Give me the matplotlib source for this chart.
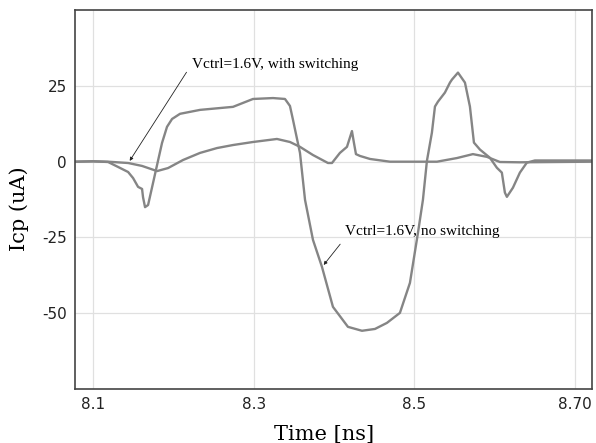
import numpy as np
import matplotlib
matplotlib.use("Agg")
import matplotlib.pyplot as plt

# time [ns] / current [uA]
t_big = [8.0772, 8.0996, 8.1183, 8.1309, 8.1433, 8.1495, 8.1557, 8.1607, 8.1619, 8.1644,
         8.1682, 8.1744, 8.1794, 8.1856, 8.1918, 8.1981, 8.2080, 8.2330, 8.2741, 8.2990,
         8.3240, 8.3389, 8.3451, 8.3489, 8.3576, 8.3639, 8.3738, 8.3850, 8.3987, 8.4174,
         8.4349, 8.4511, 8.4660, 8.4822, 8.4947, 8.5047, 8.5109, 8.5159, 8.5221, 8.5259,
         8.5296, 8.5383, 8.5446, 8.5471, 8.5546, 8.5633, 8.5695, 8.5745, 8.5820, 8.5944,
         8.6031, 8.6093, 8.6131, 8.6156, 8.6231, 8.6318, 8.6405, 8.6505, 8.7215]
i_big = [0.0, 0.13, -0.1, -1.75, -3.4, -5.4, -8.3, -9.0, -11.7, -15.0,
         -14.3, -7.0, -1.1, 6.2, 11.5, 14.1, 15.8, 17.1, 18.1, 20.7,
         21.0, 20.7, 18.4, 13.8, 2.9, -12.6, -25.8, -34.7, -47.9, -54.5,
         -55.8, -55.2, -53.2, -49.9, -40.0, -23.5, -12.6, 0.3, 9.6, 18.2,
         19.8, 22.8, 26.1, 27.1, 29.4, 26.1, 18.2, 6.3, 4.0, 1.3,
         -2.0, -3.6, -10.2, -11.6, -8.6, -3.6, -0.3, 0.4, 0.4]

t_small = [8.0772, 8.0996, 8.1183, 8.1433, 8.1607, 8.1794, 8.1931, 8.2118, 8.2330, 8.2541,
           8.2741, 8.2990, 8.3289, 8.3451, 8.3576, 8.3738, 8.3925, 8.3975, 8.4074, 8.4162,
           8.4224, 8.4249, 8.4274, 8.4324, 8.4449, 8.4698, 8.5284, 8.5533, 8.5732, 8.5907,
           8.6069, 8.6318, 8.7215]
i_small = [0.0, 0.13, 0.0, -0.43, -1.4, -3.1, -2.1, 0.56, 2.9, 4.5,
           5.5, 6.5, 7.5, 6.5, 4.9, 2.2, -0.43, -0.43, 2.9, 4.9,
           10.1, 6.2, 2.5, 1.9, 0.9, 0.0, 0.0, 1.2, 2.5, 1.6,
           -0.1, -0.2, 0.0]

xticks = [8.1, 8.3, 8.5, 8.70]
xticklabels = ["8.1", "8.3", "8.5", "8.70"]
yticks = [-50, -25, 0, 25]
yticklabels = ["-50", "-25", "0", "25"]

fig = plt.figure(figsize=(5.96, 4.43), dpi=100)
ax = fig.add_axes([0.126, 0.122, 0.867, 0.855])

ax.plot(t_big, i_big, color="#858585", lw=1.7, solid_joinstyle="round")
ax.plot(t_small, i_small, color="#858585", lw=1.7, solid_joinstyle="round")

ax.set_xlim(8.0772, 8.7215)
ax.set_ylim(-75, 50)
ax.set_xticks(xticks); ax.set_xticklabels(xticklabels)
ax.set_yticks(yticks); ax.set_yticklabels(yticklabels)
ax.tick_params(length=0, labelsize=11, pad=6, colors="#222222")
for lab in ax.get_xticklabels() + ax.get_yticklabels():
    lab.set_family("DejaVu Sans")
ax.grid(True, color="#e0e0e0", lw=0.9)
ax.set_axisbelow(True)
for s in ax.spines.values():
    s.set_color("#444444"); s.set_linewidth(1.2)

ax.set_xlabel("Time [ns]", fontsize=15, family="DejaVu Serif")
ax.xaxis.set_label_coords(0.482, -0.095)
ax.set_ylabel("Icp (uA)", fontsize=15, family="DejaVu Serif")
ax.yaxis.set_label_coords(-0.09, 0.475)

serif = ["Liberation Serif", "DejaVu Serif"]
arrow = dict(arrowstyle="-|>", color="#222222", lw=0.6, mutation_scale=5)
ax.annotate("", xy=(8.1434, -0.5), xytext=(8.218, 30.3), arrowprops=arrow)
ax.text(8.223, 30.9, "Vctrl=1.6V, with switching", fontsize=11, family=serif,
        va="baseline", ha="left")
ax.annotate("", xy=(8.385, -34.8), xytext=(8.4099, -26.5), arrowprops=arrow)
ax.text(8.4136, -24.2, "Vctrl=1.6V, no switching", fontsize=11, family=serif,
        va="baseline", ha="left")

fig.savefig("out.png", dpi=100)
